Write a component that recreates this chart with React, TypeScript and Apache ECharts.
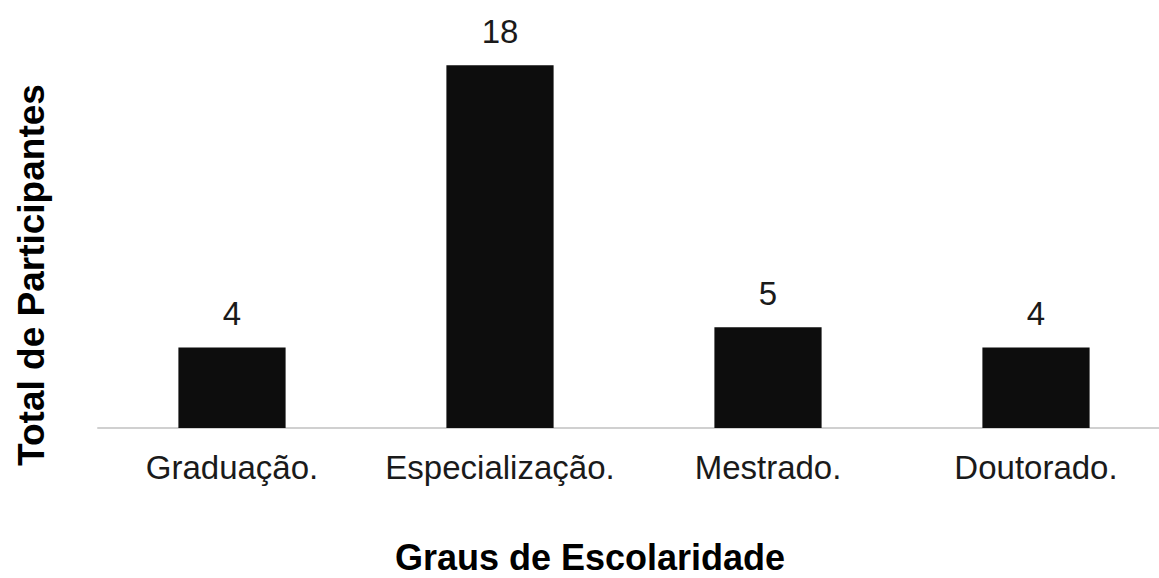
import React, { useEffect, useRef } from "react";
import * as echarts from "echarts";

const categories = ["Graduação.", "Especialização.", "Mestrado.", "Doutorado."];
const participants = [4, 18, 5, 4];
const yTitle = "Total de Participantes";
const xTitle = "Graus de Escolaridade";

const FONT = "'Liberation Sans', Arial, sans-serif";

export default function App() {
  const ref = useRef<HTMLDivElement>(null);

  useEffect(() => {
    if (!ref.current) return;
    const chart = echarts.init(ref.current, null, { renderer: "svg" });
    chart.setOption({
      animation: false,
      backgroundColor: "#ffffff",
      grid: {
        left: 98,
        width: 1072,
        top: 25,
        bottom: 150,
        containLabel: false,
        outerBoundsMode: "none",
      },
      xAxis: {
        type: "category",
        data: categories,
        axisLine: { lineStyle: { color: "#d0d0d0", width: 2 } },
        axisTick: { show: false },
        axisLabel: {
          interval: 0,
          hideOverlap: false,
          color: "#1a1a1a",
          fontFamily: FONT,
          fontSize: 33,
          margin: 23,
        },
      },
      yAxis: {
        type: "value",
        min: 0,
        max: 20,
        show: false,
      },
      graphic: [
        {
          type: "text",
          x: 31,
          y: 275,
          rotation: Math.PI / 2,
          style: {
            text: yTitle,
            fontFamily: FONT,
            fontWeight: "bold",
            fontSize: 37,
            fill: "#000000",
            textAlign: "center",
            textVerticalAlign: "middle",
          },
        },
        {
          type: "text",
          x: 590,
          y: 557,
          style: {
            text: xTitle,
            fontFamily: FONT,
            fontWeight: "bold",
            fontSize: 36,
            fill: "#000000",
            textAlign: "center",
            textVerticalAlign: "middle",
          },
        },
      ],
      series: [
        {
          type: "bar",
          data: participants,
          barWidth: "40%",
          itemStyle: { color: "#0d0d0d" },
          label: {
            show: true,
            position: "top",
            distance: 17,
            color: "#1a1a1a",
            fontFamily: FONT,
            fontSize: 33,
          },
        },
      ],
    });
    return () => chart.dispose();
  }, []);

  return (
    <div
      ref={ref}
      style={{ position: "fixed", left: 0, top: 0, width: 1159, height: 578 }}
    />
  );
}
